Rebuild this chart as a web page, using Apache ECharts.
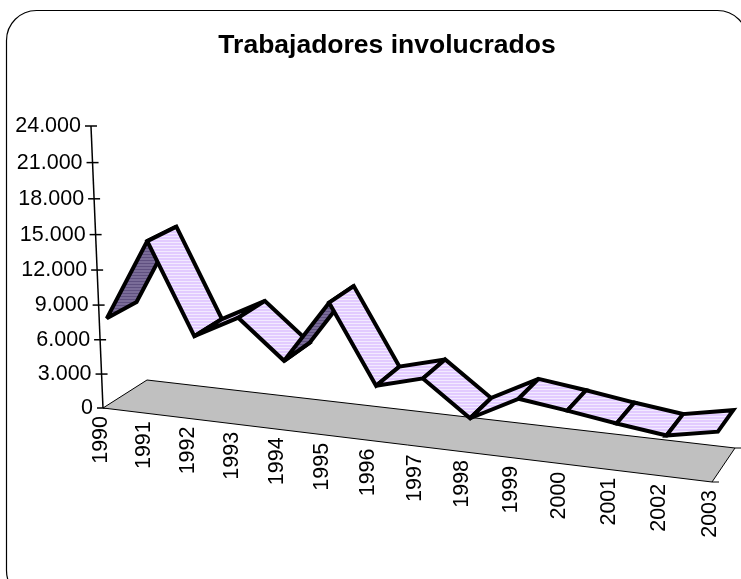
<!DOCTYPE html>
<html>
<head>
<meta charset="utf-8">
<style>html,body{margin:0;padding:0;background:#fff}#main{width:741px;height:579px}</style>
<script src="https://cdn.jsdelivr.net/npm/echarts@6/dist/echarts.min.js"></script>
</head>
<body>
<div id="main"></div>
<script>
var years = ['1990','1991','1992','1993','1994','1995','1996','1997','1998','1999','2000','2001','2002','2003'];
var workers = [7500,14590,6850,8920,5630,11150,4410,5540,2530,4760,4230,3620,3090,3970];
var yTicks = [0,3000,6000,9000,12000,15000,18000,21000,24000];
var yLabels = ['0','3.000','6.000','9.000','12.000','15.000','18.000','21.000','24.000'];

// plain cartesian grid, its pixels get warped into the 3d look by project()
var gridLeft = 103, gridTop = 126, gridW = 609, gridH = 282;
var floorFL = [103,408], floorFR = [712,482], floorBL = [147,380], floorBR = [735,448];
var ribbonFront = 0.167, ribbonBack = 0.833;
var font = '"Liberation Sans", Arial, sans-serif';

function persp(s, r) {
    return s / (s + r * (1 - s));
}
function lerp(a, b, t) {
    return [a[0] + (b[0] - a[0]) * t, a[1] + (b[1] - a[1]) * t];
}
// pixel of the grid + depth (0 front, 1 back) -> screen point
function project(p, depth) {
    var t = persp((p[0] - gridLeft) / gridW, 1.095);
    var f = (gridTop + gridH - p[1]) / gridH;
    var h = gridH * persp(f, 1.044) * (1 - 0.04 * depth);
    var base = lerp(lerp(floorFL, floorFR, t), lerp(floorBL, floorBR, t), depth);
    var lean = 0.0426 * (400 - base[0]) / 297;  // vertical lines converge downwards
    return [base[0] - lean * h, base[1] - h];
}
function stripes(c1, c2) {
    var cv = document.createElement('canvas');
    cv.width = 4; cv.height = 3;
    var ctx = cv.getContext('2d');
    ctx.fillStyle = c1; ctx.fillRect(0, 0, 4, 2);
    ctx.fillStyle = c2; ctx.fillRect(0, 2, 4, 1);
    return {image: cv, repeat: 'repeat'};
}
var lightFill = stripes('#E2CBFF', '#F3EAFF');
var darkFill = stripes('#7A6C98', '#5F5080');

function renderFloor(params, api) {
    var c = [api.coord([0, 0]), api.coord([years.length - 1, 0])];
    var pts = [project(c[0], 0), project(c[1], 0), project(c[1], 1), project(c[0], 1)];
    var fr = pts[1], br = pts[2];
    return {type: 'group', children: [
        {type: 'polygon', shape: {points: pts}, style: {fill: '#C0C0C0', stroke: '#000', lineWidth: 1}},
        {type: 'line', shape: {x1: fr[0], y1: fr[1], x2: fr[0] + 7, y2: fr[1]}, style: {stroke: '#000', lineWidth: 1}},
        {type: 'line', shape: {x1: br[0], y1: br[1], x2: br[0] + 6, y2: br[1]}, style: {stroke: '#000', lineWidth: 1}}
    ]};
}

function renderYAxis(params, api) {
    var p = project(api.coord([0, api.value(1)]), 0);
    var children = [
        {type: 'line', shape: {x1: p[0] - 6, y1: p[1], x2: p[0] + 6, y2: p[1]}, style: {stroke: '#000', lineWidth: 1.5}},
        {type: 'text', x: p[0] - 10, y: p[1], style: {text: yLabels[params.dataIndex], textAlign: 'right', textVerticalAlign: 'middle', fontSize: 21.5, fontFamily: font, fill: '#000'}}
    ];
    if (params.dataIndex > 0) {
        var q = project(api.coord([0, yTicks[params.dataIndex - 1]]), 0);
        children.push({type: 'line', shape: {x1: p[0], y1: p[1], x2: q[0], y2: q[1]}, style: {stroke: '#000', lineWidth: 1.5}});
    }
    return {type: 'group', children: children};
}

function renderXLabel(params, api) {
    var p = project(api.coord([params.dataIndex, 0]), 0);
    return {type: 'text', x: p[0] - 2, y: p[1] + 8, rotation: Math.PI / 2,
        style: {text: years[params.dataIndex], textAlign: 'right', textVerticalAlign: 'middle', fontSize: 21.5, fontFamily: font, fill: '#000'}};
}

function renderRibbon(params, api) {
    var i = params.dataIndex;
    if (i >= years.length - 1) return null;
    var a = api.coord([i, workers[i]]), b = api.coord([i + 1, workers[i + 1]]);
    var f1 = project(a, ribbonFront), b1 = project(a, ribbonBack);
    var f2 = project(b, ribbonFront), b2 = project(b, ribbonBack);
    // which side of the ribbon faces us
    var cross = (f2[0] - f1[0]) * (b1[1] - f1[1]) - (f2[1] - f1[1]) * (b1[0] - f1[0]);
    return {type: 'polygon', shape: {points: [f1, f2, b2, b1]},
        style: {fill: cross > 0 ? darkFill : lightFill, stroke: '#000', lineWidth: 4, lineJoin: 'miter', miterLimit: 2.5}};
}

var chart = echarts.init(document.getElementById('main'));
var option = {
    animation: false,
    title: {
        text: 'Trabajadores involucrados',
        left: 382, top: 27, textAlign: 'center',
        textStyle: {fontFamily: font, fontWeight: 'bold', fontSize: 26.5, color: '#000'}
    },
    grid: {left: gridLeft, top: gridTop, width: gridW, height: gridH},
    xAxis: {type: 'category', data: years, boundaryGap: false, show: false},
    yAxis: {type: 'value', min: 0, max: 24000, interval: 3000, show: false},
    graphic: [{
        type: 'rect', z: -1,
        shape: {x: 6.5, y: 10.5, width: 741, height: 590, r: 30},
        style: {fill: '#fff', stroke: '#000', lineWidth: 1.2}
    }],
    series: [
        {type: 'custom', silent: true, z: 2, renderItem: renderYAxis,
            data: yTicks.map(function (v) { return [0, v]; })},
        {type: 'custom', silent: true, z: 3, renderItem: renderFloor, data: [[0, 0]]},
        {type: 'custom', silent: true, z: 4, renderItem: renderXLabel,
            data: years.map(function (y, i) { return [i, 0]; })},
        {type: 'custom', silent: true, z: 5, renderItem: renderRibbon,
            data: workers.map(function (v, i) { return [i, v]; })}
    ]
};
chart.setOption(option);
</script>
</body>
</html>
